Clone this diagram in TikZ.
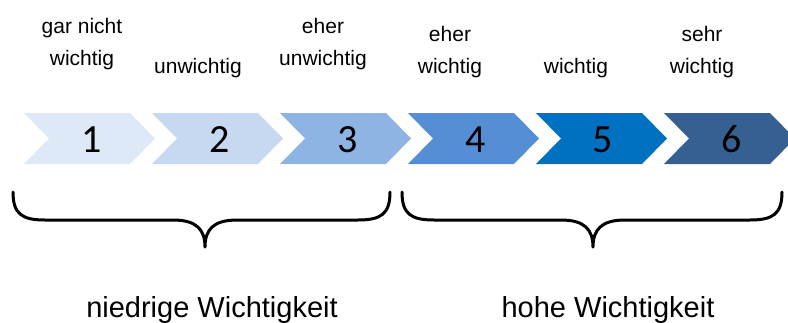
\documentclass[tikz,border=0pt]{standalone}
\usepackage{fontspec}
\setmainfont{Liberation Sans}
\newfontfamily\digitfont{Carlito}
\usepackage{tikz}

\definecolor{stufeA}{HTML}{DEE9F7}
\definecolor{stufeB}{HTML}{C6D9F1}
\definecolor{stufeC}{HTML}{8EB4E3}
\definecolor{stufeD}{HTML}{558ED5}
\definecolor{stufeE}{HTML}{0070C0}
\definecolor{stufeF}{HTML}{376092}

\tikzset{
  digit/.style={anchor=base, inner sep=0pt, font=\digitfont\fontsize{40}{40}\selectfont},
  lbl/.style={anchor=base, inner sep=0pt, align=center, font=\fontsize{21}{32}\selectfont},
  gruppe/.style={anchor=base, inner sep=0pt, font=\fontsize{29}{29}\selectfont},
  klammer/.style={line width=3pt, line join=round, line cap=round}
}

\begin{document}
\begin{tikzpicture}[x=1pt, y=-1pt]
\clip (0,0) rectangle (788,322);

\fill[stufeA] (24 ,113) -- (130,113) -- (155,138.5) -- (130,164) -- (24 ,164) -- (49 ,138.5) -- cycle;
\fill[stufeB] (152,113) -- (258,113) -- (283,138.5) -- (258,164) -- (152,164) -- (177,138.5) -- cycle;
\fill[stufeC] (280,113) -- (386,113) -- (411,138.5) -- (386,164) -- (280,164) -- (305,138.5) -- cycle;
\fill[stufeD] (408,113) -- (514,113) -- (539,138.5) -- (514,164) -- (408,164) -- (433,138.5) -- cycle;
\fill[stufeE] (536,113) -- (642,113) -- (667,138.5) -- (642,164) -- (536,164) -- (561,138.5) -- cycle;
\fill[stufeF] (664,113) -- (770,113) -- (795,138.5) -- (770,164) -- (664,164) -- (689,138.5) -- cycle;

\node[digit] (n1) at (92 ,152) {1};
\node[digit] (n2) at (220,152) {2};
\node[digit] (n3) at (348,152) {3};
\node[digit] (n4) at (476,152) {4};
\node[digit] (n5) at (603,152) {5};
\node[digit] (n6) at (732,152) {6};

% base = last line
\node[lbl] (l1) at (82 ,65) {gar nicht\\wichtig};
\node[lbl] (l2) at (198,73) {unwichtig};
\node[lbl] (l3) at (323,65) {eher\\unwichtig};
\node[lbl] (l4) at (450,73) {eher\\wichtig};
\node[lbl] (l5) at (576,73) {wichtig};
\node[lbl] (l6) at (702,73) {sehr\\wichtig};

% Klammern
\coordinate (K1) at (13 ,192) ;
\coordinate (K2) at (205,247) ;
\coordinate (K3) at (390,192) ;
\coordinate (K4) at (402,192) ;
\coordinate (K5) at (593,247) ;
\coordinate (K6) at (782,192) ;
\draw[klammer] (K1) .. controls (13,214) and (22,220) .. (45,220) -- (173,220)
  .. controls (197,220) and (205,230) .. (K2)
  .. controls (205,230) and (213,220) .. (237,220) -- (358,220)
  .. controls (381,220) and (390,214) .. (K3);
\draw[klammer] (K4) .. controls (402,214) and (411,220) .. (434,220) -- (561,220)
  .. controls (585,220) and (593,230) .. (K5)
  .. controls (593,230) and (601,220) .. (625,220) -- (750,220)
  .. controls (773,220) and (782,214) .. (K6);

\node[gruppe] (g1) at (212,317) {niedrige Wichtigkeit};
\node[gruppe] (g2) at (608,317) {hohe Wichtigkeit};

\end{tikzpicture}
\end{document}
